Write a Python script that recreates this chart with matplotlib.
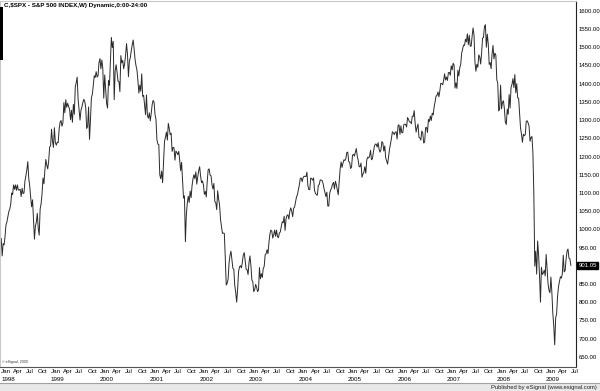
import numpy as np
import pandas as pd
import matplotlib
matplotlib.use("Agg")
import matplotlib.pyplot as plt
import matplotlib.dates as mdates
from matplotlib.patches import Rectangle

# weekly closes of $SPX (Jan 1998 .. Jul 2009)
y1998 = [975, 927, 961, 957, 980, 1012, 1020, 1035, 1049, 1055, 1069, 1100, 1095,
         1122, 1110, 1122, 1107, 1122, 1108, 1108, 1110, 1090, 1113, 1098, 1100, 1133,
         1147, 1164, 1186, 1140, 1120, 1089, 1062, 1081, 1027, 973, 1009, 1020, 1044,
         1002, 984, 1056, 1070, 1098, 1141, 1125, 1163, 1192, 1176, 1166, 1188, 1226]
y1999 = [1229, 1275, 1243, 1225, 1279, 1239, 1231, 1239, 1238, 1275, 1294, 1299, 1283,
         1293, 1348, 1320, 1356, 1335, 1346, 1337, 1330, 1301, 1327, 1294, 1343, 1316,
         1391, 1403, 1418, 1357, 1329, 1300, 1327, 1336, 1348, 1357, 1351, 1335, 1277,
         1282, 1336, 1247, 1301, 1362, 1371, 1397, 1422, 1417, 1433, 1418, 1422, 1458, 1469]
y2000 = [1441, 1465, 1441, 1360, 1424, 1387, 1346, 1333, 1409, 1395, 1464, 1527, 1499,
         1516, 1356, 1434, 1452, 1432, 1407, 1406, 1378, 1477, 1457, 1464, 1441, 1455,
         1478, 1510, 1480, 1419, 1462, 1472, 1491, 1507, 1520, 1495, 1466, 1449, 1437,
         1408, 1374, 1396, 1379, 1427, 1365, 1368, 1341, 1315, 1369, 1312, 1305, 1320]
y2001 = [1298, 1318, 1343, 1354, 1349, 1315, 1302, 1246, 1234, 1233, 1150, 1139, 1160,
         1128, 1183, 1242, 1253, 1267, 1245, 1291, 1277, 1260, 1264, 1214, 1225, 1224,
         1190, 1215, 1211, 1205, 1214, 1190, 1161, 1184, 1134, 1086, 1092, 966, 1041,
         1072, 1091, 1074, 1105, 1087, 1120, 1139, 1150, 1139, 1158, 1124, 1144, 1161]
y2002 = [1172, 1146, 1128, 1133, 1122, 1096, 1104, 1089, 1132, 1164, 1166, 1149, 1147,
         1123, 1111, 1126, 1076, 1073, 1054, 1106, 1083, 1067, 1027, 1007, 989, 990,
         989, 922, 847, 852, 864, 908, 929, 940, 917, 893, 890, 846, 827,
         800, 835, 884, 897, 900, 894, 910, 930, 936, 912, 890, 889, 876]
y2003 = [909, 927, 901, 861, 856, 829, 834, 849, 841, 829, 833, 895, 864,
         878, 868, 893, 898, 930, 933, 944, 933, 964, 987, 998, 995, 976,
         985, 998, 981, 998, 980, 977, 990, 993, 1008, 1021, 1018, 1036, 997,
         1029, 1038, 1040, 1028, 1050, 1059, 1050, 1035, 1058, 1061, 1075, 1089, 1095]
y2004 = [1108, 1122, 1140, 1141, 1131, 1142, 1146, 1145, 1145, 1157, 1120, 1109, 1109,
         1141, 1139, 1135, 1141, 1107, 1099, 1095, 1094, 1121, 1123, 1136, 1135, 1134,
         1126, 1112, 1101, 1090, 1102, 1064, 1064, 1099, 1108, 1114, 1124, 1129, 1111,
         1132, 1122, 1109, 1095, 1130, 1166, 1185, 1170, 1182, 1191, 1189, 1194, 1211, 1212]
y2005 = [1186, 1184, 1167, 1171, 1203, 1206, 1201, 1211, 1222, 1201, 1190, 1172, 1172,
         1182, 1143, 1152, 1157, 1172, 1154, 1190, 1198, 1196, 1201, 1217, 1191, 1194,
         1212, 1227, 1234, 1234, 1226, 1238, 1220, 1212, 1219, 1241, 1237, 1215, 1229,
         1196, 1187, 1179, 1199, 1220, 1235, 1249, 1268, 1265, 1260, 1267, 1268, 1248]
y2006 = [1285, 1287, 1261, 1284, 1265, 1266, 1287, 1289, 1288, 1281, 1307, 1302, 1295,
         1295, 1290, 1311, 1310, 1326, 1291, 1267, 1280, 1289, 1253, 1251, 1245, 1270,
         1265, 1237, 1240, 1279, 1280, 1266, 1302, 1296, 1311, 1299, 1319, 1314, 1336,
         1350, 1366, 1368, 1377, 1364, 1380, 1401, 1400, 1397, 1409, 1427, 1410, 1418]
y2007 = [1409, 1430, 1431, 1423, 1449, 1438, 1456, 1451, 1388, 1402, 1387, 1437, 1421,
         1444, 1453, 1484, 1495, 1506, 1505, 1522, 1515, 1537, 1507, 1533, 1503, 1503,
         1530, 1553, 1534, 1459, 1434, 1453, 1445, 1479, 1474, 1454, 1484, 1525, 1527,
         1557, 1562, 1500, 1536, 1509, 1453, 1458, 1441, 1481, 1505, 1468, 1484, 1478]
y2008 = [1411, 1401, 1325, 1330, 1396, 1331, 1349, 1353, 1331, 1294, 1288, 1330, 1316,
         1370, 1333, 1390, 1398, 1414, 1389, 1425, 1375, 1400, 1361, 1360, 1318, 1278,
         1262, 1239, 1261, 1257, 1260, 1297, 1298, 1292, 1283, 1242, 1252, 1255, 1213,
         1100, 899, 940, 877, 968, 931, 873, 800, 896, 876, 880, 888, 872]
y2009 = [931, 890, 850, 832, 826, 869, 827, 770, 735, 683, 757, 768, 816,
         843, 857, 870, 866, 877, 929, 883, 887, 919, 940, 946, 921, 919, 901.05]

closes = y1998 + y1999 + y2000 + y2001 + y2002 + y2003 + y2004 + y2005 + \
    y2006 + y2007 + y2008 + y2009
weeks = pd.date_range("1998-01-02", periods=len(closes), freq="W-FRI")
last_price = 901.05

price_ticks = [p for p in range(650, 1601, 50) if p != 900]
month_names = {1: "Jan", 4: "Apr", 7: "Jul", 10: "Oct"}
years = list(range(1998, 2010))

W, H = 600, 391
fig = plt.figure(figsize=(W / 100, H / 100), dpi=100)
fig.patch.set_facecolor("white")
FONT = "Liberation Sans"

ax = fig.add_axes([0, 1 - 367 / H, 576 / W, 366 / H])
ax.plot(weeks, closes, color="#2a2a2a", linewidth=0.7)
ax.set_xlim(mdates.date2num(pd.Timestamp("1997-12-24")),
            mdates.date2num(pd.Timestamp("2009-08-10")))
ax.set_ylim(622, 1627)

# right price scale
ax.yaxis.tick_right()
ax.set_yticks(price_ticks)
ax.set_yticklabels([f"{p:.2f}" for p in price_ticks])
ax.tick_params(axis="y", length=0, pad=2, labelsize=4.3, labelfontfamily=FONT)

# quarterly month labels plus year labels underneath
ax.xaxis.remove_overlapping_locs = False
quarters = [pd.Timestamp(y, m, 1) for y in years for m in (1, 4, 7, 10)
            if pd.Timestamp(y, m, 1) <= pd.Timestamp("2009-07-01")]
ax.set_xticks(quarters)
ax.set_xticklabels([month_names[q.month] for q in quarters], ha="left")
ax.set_xticks([pd.Timestamp(y, 1, 1) for y in years], minor=True)
ax.set_xticklabels([str(y) for y in years], minor=True, ha="left")
ax.tick_params(axis="x", which="major", length=0, pad=1.5, labelsize=4.5,
               labelfontfamily=FONT)
ax.tick_params(axis="x", which="minor", length=0, pad=7.5, labelsize=4.5,
               labelfontfamily=FONT)
for lab in ax.get_xticklabels(minor=True) + ax.get_xticklabels():
    lab.set_horizontalalignment("left")

for side in ("top", "left"):
    ax.spines[side].set_color("#c8c8c8")
    ax.spines[side].set_linewidth(0.8)
ax.spines["right"].set_color("#222222")
ax.spines["right"].set_linewidth(0.8)
ax.spines["bottom"].set_color("#555555")
ax.spines["bottom"].set_linewidth(0.8)

# last price box on the scale
ax.text(1.004, last_price, f"{last_price:.2f}", transform=ax.get_yaxis_transform(),
        fontsize=4.3, family=FONT, color="white", va="center", ha="left",
        bbox=dict(boxstyle="square,pad=0.15", facecolor="black", edgecolor="black"))

ax.text(2 / 576, 2.5 / 366, "© eSignal, 2009", transform=ax.transAxes,
        fontsize=2.6, family=FONT, color="#333333", va="bottom", ha="left")

fig.text(4 / W, 1 - 6 / H, "C,$SPX - S&P 500 INDEX,W) Dynamic,0:00-24:00",
         fontsize=4.5, family=FONT, weight="bold", va="center", ha="left")

# cursor bar on the left edge
fig.patches.append(Rectangle((0, 1 - 60 / H), 3 / W, 53 / H, transform=fig.transFigure,
                             facecolor="black", edgecolor="none"))

# status strip at the bottom
fig.patches.append(Rectangle((0, 0), 1, 8.5 / H, transform=fig.transFigure,
                             facecolor="#e8e8e8", edgecolor="none"))
fig.add_artist(plt.Line2D([0, 1], [8.5 / H, 8.5 / H], transform=fig.transFigure,
                          color="#a0a0a0", linewidth=0.8))
fig.text(597 / W, 4 / H, "Published by eSignal (www.esignal.com)", fontsize=4.2,
         family=FONT, va="center", ha="right", color="#222222")

fig.savefig("out.png", dpi=100)
